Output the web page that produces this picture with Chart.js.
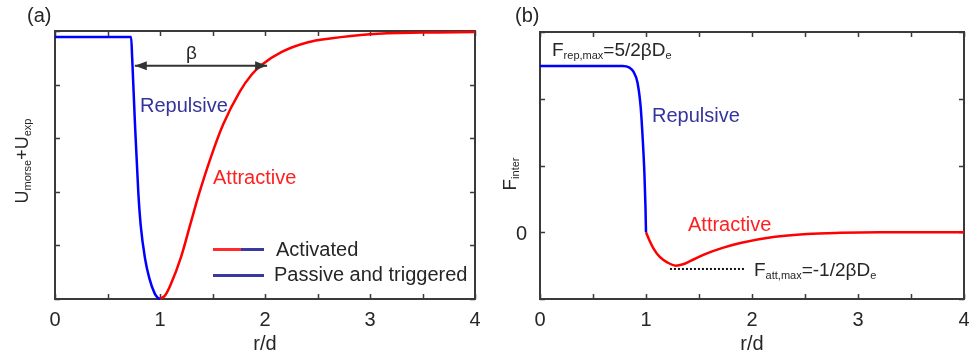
<!DOCTYPE html>
<html>
<head>
<meta charset="utf-8">
<script src="https://cdn.jsdelivr.net/npm/chart.js@4.4.1/dist/chart.umd.min.js"></script>
<style>
body { margin: 0; background: #fff; }
#wrap { position: relative; width: 973px; height: 356px; overflow: hidden; font-family: "Liberation Sans", Arial, sans-serif; color: #262626; }
canvas { position: absolute; top: 0; }
.lbl { position: absolute; white-space: nowrap; font-size: 20px; line-height: 20px; }
.lbl sub { font-size: 11px; vertical-align: -3px; line-height: 0; }
.f19 { font-size: 19px; line-height: 19px; }
.rot { transform: translate(-50%, -50%) rotate(-90deg); }
.navy { color: #34349c; }
.red { color: #ff1f1f; }
.sw { position: absolute; height: 3px; width: 51px; }
</style>
</head>
<body>
<div id="wrap">
  <canvas id="chartA" width="487" height="356" style="left:0"></canvas>
  <canvas id="chartB" width="486" height="356" style="left:487px"></canvas>

  <!-- panel (a) text -->
  <div class="lbl" style="left:27px; top:5px">(a)</div>
  <div class="lbl f19" style="left:186px; top:43px">β</div>
  <div class="lbl navy" style="left:140px; top:95px">Repulsive</div>
  <div class="lbl red" style="left:213px; top:167px">Attractive</div>
  <div class="sw" style="left:213px; top:248px; background:linear-gradient(to right, #ff2a2a 55%, #3a3a9e 55%)"></div>
  <div class="lbl" style="left:276px; top:239px">Activated</div>
  <div class="sw" style="left:213px; top:274px; background:#3a3a9e"></div>
  <div class="lbl" style="left:274px; top:264px">Passive and triggered</div>
  <div class="lbl rot" style="left:22px; top:161px; font-size:18px; line-height:18px">U<sub>morse</sub>+U<sub>exp</sub></div>

  <!-- panel (b) text -->
  <div class="lbl" style="left:515px; top:5px">(b)</div>
  <div class="lbl f19" style="left:552px; top:40px">F<sub>rep,max</sub>=5/2βD<sub>e</sub></div>
  <div class="lbl navy" style="left:652px; top:105px">Repulsive</div>
  <div class="lbl red" style="left:688px; top:214px">Attractive</div>
  <div class="lbl f19" style="left:754px; top:260px">F<sub>att,max</sub>=-1/2βD<sub>e</sub></div>
  <div class="lbl rot f19" style="left:509px; top:174px">F<sub>inter</sub></div>
</div>

<script>
// tick labels
var xTickLabels = [0, 1, 2, 3, 4];
var yTickLabelsB = [0];

// (a) potential: blue = repulsive branch, red = attractive branch
var aBlueX = [0, 0.725, 0.735, 0.762, 0.793, 0.816, 0.857, 0.898, 0.95, 0.975, 1.0];
var aBlueY = [4.89, 4.89, 4.5, 3.25, 2.0, 1.38, 0.76, 0.39, 0.1, 0.03, 0];
var aRedX = [1.0, 1.05, 1.1, 1.2, 1.29, 1.37, 1.48, 1.6, 1.76, 1.87, 1.97, 2.16, 2.41, 2.62, 3.0, 3.5, 4.0];
var aRedY = [0, 0.07, 0.26, 0.78, 1.4, 1.95, 2.62, 3.25, 3.87, 4.18, 4.37, 4.61, 4.79, 4.86, 4.94, 4.97, 4.98];
// beta arrow
var aArrowX = [0.76, 2.02];
var aArrowY = [4.35, 4.35];

// (b) force
var bBlueX = [0, 0.78, 0.84, 0.88, 0.92, 0.95, 0.97, 0.985, 0.995, 1.0];
var bBlueY = [2.49, 2.49, 2.47, 2.41, 2.24, 1.87, 1.37, 0.88, 0.38, 0];
var bRedX = [1.0, 1.035, 1.07, 1.13, 1.2, 1.28, 1.35, 1.42, 1.57, 1.73, 1.89, 2.2, 2.52, 2.83, 3.2, 4.0];
var bRedY = [0, -0.13, -0.24, -0.37, -0.45, -0.5, -0.48, -0.43, -0.32, -0.23, -0.16, -0.07, -0.025, -0.008, 0, 0];
// dotted line at the attractive maximum
var bDotX = [1.226, 1.925];
var bDotY = [-0.55, -0.55];

function pts(xs, ys) {
    return xs.map(function (x, i) { return { x: x, y: ys[i] }; });
}

function curve(xs, ys, color) {
    return {
        data: pts(xs, ys),
        borderColor: color,
        borderWidth: 2.5,
        pointRadius: 0,
        cubicInterpolationMode: 'monotone',
        clip: 6
    };
}

// box with inward ticks on all four sides (matlab style)
var framePlugin = {
    id: 'frame',
    beforeDatasetsDraw: function (chart) {
        var ctx = chart.ctx, a = chart.chartArea;
        var sx = chart.scales.x, sy = chart.scales.y;
        var len = 5;
        ctx.save();
        ctx.strokeStyle = '#3a3a3a';
        ctx.lineWidth = 1.5;
        ctx.beginPath();
        sx.ticks.forEach(function (t) {
            var p = Math.round(sx.getPixelForValue(t.value)) + 0.5;
            ctx.moveTo(p, a.bottom); ctx.lineTo(p, a.bottom - len);
            ctx.moveTo(p, a.top); ctx.lineTo(p, a.top + len);
        });
        sy.ticks.forEach(function (t) {
            var p = Math.round(sy.getPixelForValue(t.value)) + 0.5;
            ctx.moveTo(a.left, p); ctx.lineTo(a.left + len, p);
            ctx.moveTo(a.right, p); ctx.lineTo(a.right - len, p);
        });
        ctx.stroke();
        ctx.lineWidth = 2;
        ctx.strokeRect(a.left, a.top, a.right - a.left, a.bottom - a.top);
        ctx.restore();
    }
};

// filled heads on both ends of datasets marked arrowHeads
var arrowPlugin = {
    id: 'arrows',
    afterDatasetsDraw: function (chart) {
        var ctx = chart.ctx;
        chart.data.datasets.forEach(function (ds, i) {
            if (!ds.arrowHeads) return;
            var d = chart.getDatasetMeta(i).data;
            var p0 = d[0], p1 = d[d.length - 1];
            ctx.save();
            ctx.fillStyle = ds.borderColor;
            [[p0, 1], [p1, -1]].forEach(function (e) {
                var x = e[0].x, y = e[0].y, dir = e[1];
                ctx.beginPath();
                ctx.moveTo(x, y);
                ctx.lineTo(x + dir * 12, y - 4.5);
                ctx.lineTo(x + dir * 12, y + 4.5);
                ctx.closePath();
                ctx.fill();
            });
            ctx.restore();
        });
    }
};

function baseX(padTitle) {
    return {
        type: 'linear', min: 0, max: 4,
        grid: { display: false }, border: { display: false },
        ticks: {
            stepSize: 0.5, autoSkip: false, maxRotation: 0, padding: 1,
            color: '#262626', font: { family: 'Liberation Sans', size: 20 },
            callback: function (v) { return xTickLabels.indexOf(v) >= 0 ? String(v) : ''; }
        },
        title: { display: true, text: 'r/d', color: '#262626', padding: padTitle,
                 font: { family: 'Liberation Sans', size: 20 } },
        afterFit: function (s) { s.height = 57; }
    };
}

var chartA = new Chart(document.getElementById('chartA').getContext('2d'), {
    type: 'line',
    data: {
        datasets: [
            curve(aBlueX, aBlueY, '#0000ff'),
            curve(aRedX, aRedY, '#ff0000'),
            { data: pts(aArrowX, aArrowY), borderColor: '#333333', borderWidth: 2, pointRadius: 0, arrowHeads: true }
        ]
    },
    options: {
        responsive: false,
        animation: false,
        layout: { padding: { top: 31, right: 12, left: 0, bottom: 0 } },
        plugins: { legend: { display: false }, tooltip: { enabled: false } },
        scales: {
            x: baseX({ top: 0, bottom: 0 }),
            y: {
                min: 0, max: 5,
                grid: { display: false }, border: { display: false },
                ticks: { stepSize: 1, display: false },
                afterFit: function (s) { s.width = 55; }
            }
        }
    },
    plugins: [framePlugin, arrowPlugin]
});

var chartB = new Chart(document.getElementById('chartB').getContext('2d'), {
    type: 'line',
    data: {
        datasets: [
            curve(bBlueX, bBlueY, '#0000ff'),
            curve(bRedX, bRedY, '#ff0000'),
            { data: pts(bDotX, bDotY), borderColor: '#111111', borderWidth: 2, borderDash: [2, 2], pointRadius: 0 }
        ]
    },
    options: {
        responsive: false,
        animation: false,
        layout: { padding: { top: 32, right: 9, left: 0, bottom: 0 } },
        plugins: { legend: { display: false }, tooltip: { enabled: false } },
        scales: {
            x: baseX({ top: 0, bottom: 0 }),
            y: {
                min: -1, max: 3,
                grid: { display: false }, border: { display: false },
                ticks: {
                    stepSize: 1, padding: 5, labelOffset: 2, color: '#262626',
                    font: { family: 'Liberation Sans', size: 20 },
                    callback: function (v) { return yTickLabelsB.indexOf(v) >= 0 ? String(v) : ''; }
                },
                afterFit: function (s) { s.width = 53; }
            }
        }
    },
    plugins: [framePlugin]
});
</script>
</body>
</html>
